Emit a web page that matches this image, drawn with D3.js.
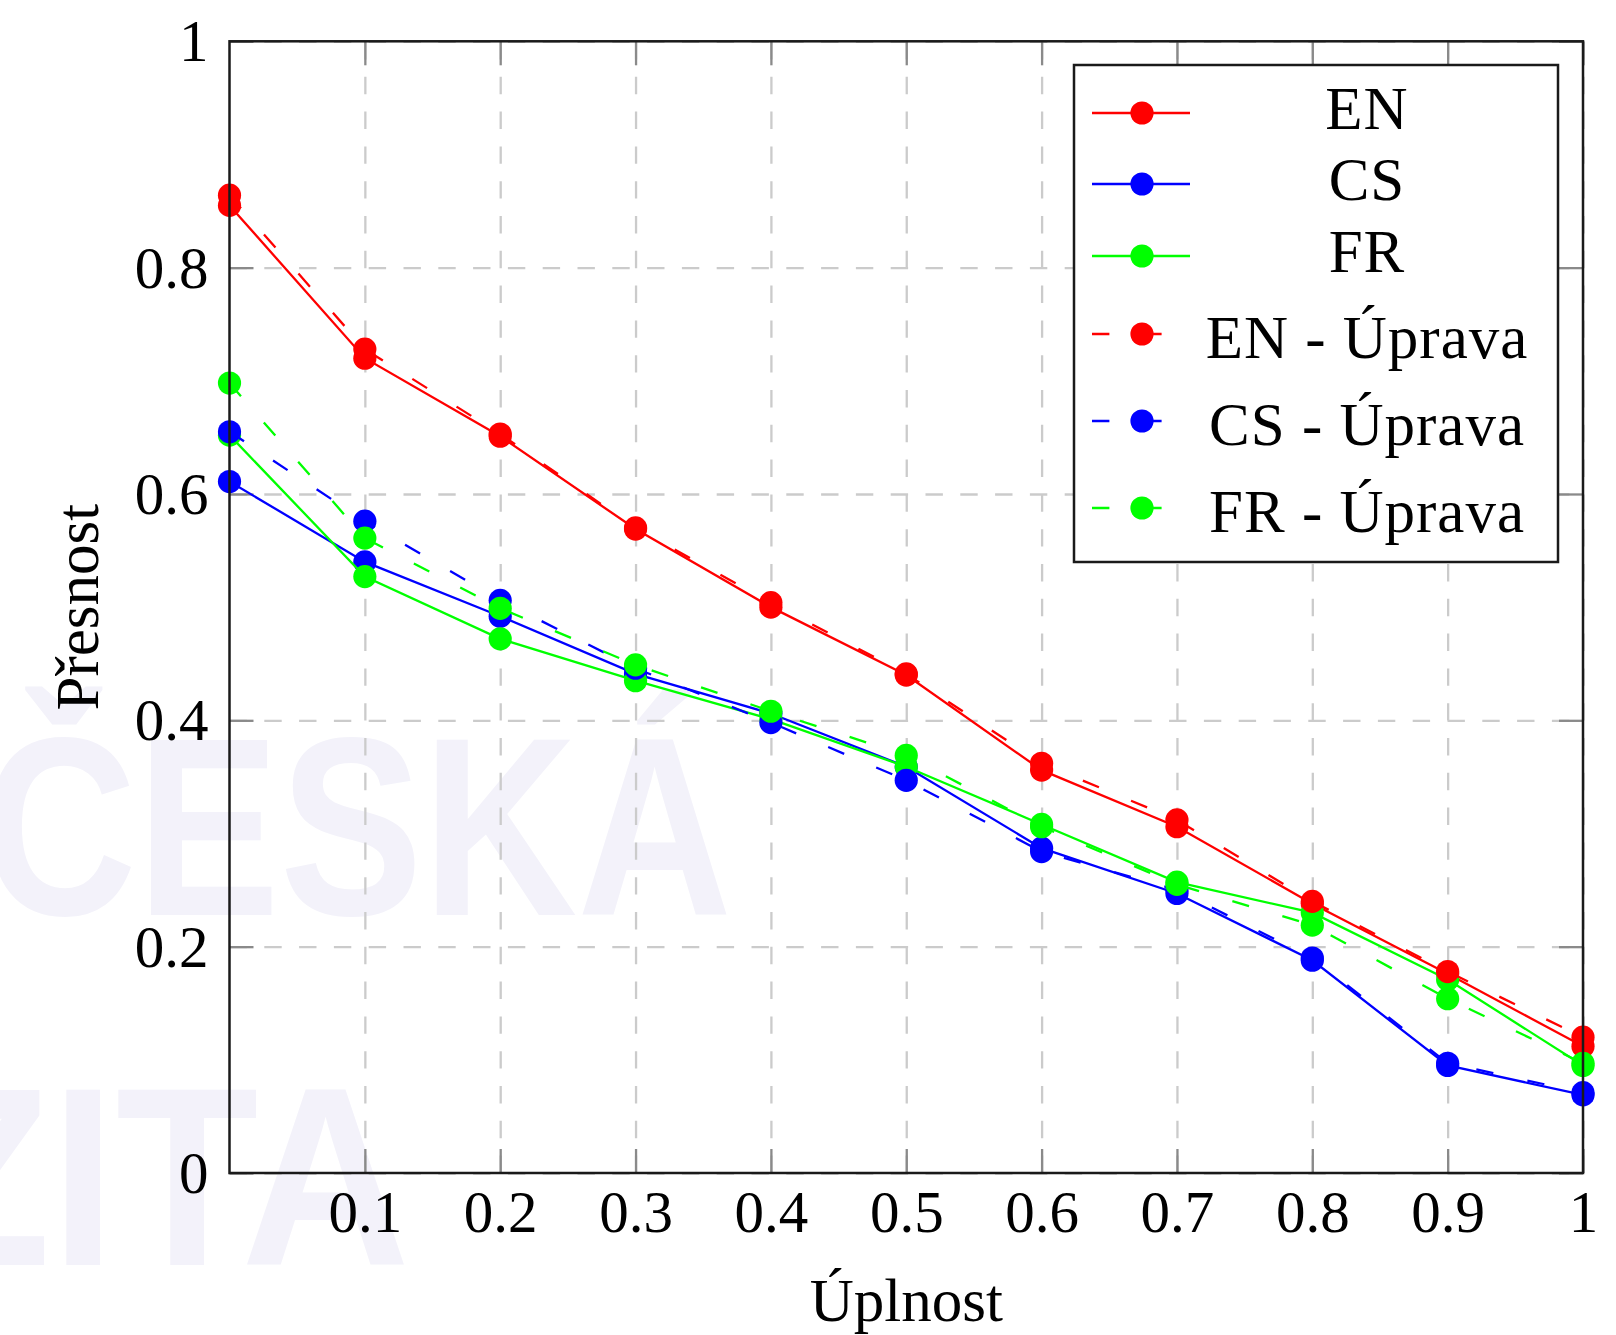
<!DOCTYPE html>
<html>
<head>
<meta charset="utf-8">
<script src="https://cdn.jsdelivr.net/npm/d3@7"></script>
<style>
  body { margin: 0; background: #fff; }
  svg { display: block; }
</style>
</head>
<body>
<div class="canvas"></div>
<script>
'use strict';

// precision / recall values
const recall = [0, 0.1, 0.2, 0.3, 0.4, 0.5, 0.6, 0.7, 0.8, 0.9, 1];
const en = [0.855, 0.72, 0.651, 0.569, 0.5, 0.44, 0.356, 0.306, 0.238, 0.176, 0.112];
const cs = [0.611, 0.54, 0.492, 0.441, 0.406, 0.359, 0.287, 0.247, 0.188, 0.095, 0.069];
const fr = [0.652, 0.527, 0.472, 0.435, 0.401, 0.359, 0.308, 0.257, 0.23, 0.171, 0.095];
const enUprava = [0.864, 0.728, 0.653, 0.57, 0.504, 0.441, 0.362, 0.312, 0.24, 0.178, 0.12];
const csUprava = [0.655, 0.576, 0.506, 0.446, 0.398, 0.347, 0.284, 0.25, 0.19, 0.097, 0.071];
const frUprava = [0.698, 0.561, 0.499, 0.449, 0.408, 0.369, 0.306, 0.255, 0.219, 0.154, 0.097];

const xTicks = [0.1, 0.2, 0.3, 0.4, 0.5, 0.6, 0.7, 0.8, 0.9, 1];
const yTicks = [0, 0.2, 0.4, 0.6, 0.8, 1];

const series = [
  { name: 'EN', values: en, color: '#ff0000', dashed: false },
  { name: 'CS', values: cs, color: '#0000ff', dashed: false },
  { name: 'FR', values: fr, color: '#00ff00', dashed: false },
  { name: 'EN - Úprava', values: enUprava, color: '#ff0000', dashed: true },
  { name: 'CS - Úprava', values: csUprava, color: '#0000ff', dashed: true },
  { name: 'FR - Úprava', values: frUprava, color: '#00ff00', dashed: true },
];

const W = 1616;
const H = 1335;
const margin = { top: 41.3, right: 33, bottom: 162, left: 229.5 };
const graphWidth = W - margin.left - margin.right;
const graphHeight = H - margin.top - margin.bottom;

const serif = "'Liberation Serif', 'Times New Roman', serif";
const lineW = 2.3;
const markR = 11.6;

const svg = d3
  .select('.canvas')
  .append('svg')
  .attr('width', W)
  .attr('height', H);

// faint university watermark behind the plot
const wm = svg
  .append('g')
  .attr('fill', '#f3f2fa')
  .style('font-family', "'Liberation Sans', Arial, sans-serif")
  .style('font-weight', 'bold')
  .style('font-size', '254px');

wm.append('text')
  .attr('x', -18)
  .attr('y', 915)
  .attr('textLength', 750)
  .attr('lengthAdjust', 'spacingAndGlyphs')
  .text('ČESKÁ');

wm.append('text')
  .attr('x', -92)
  .attr('y', 1265)
  .attr('textLength', 502)
  .attr('lengthAdjust', 'spacingAndGlyphs')
  .text('ZITA');

const graph = svg
  .append('g')
  .attr('transform', `translate(${margin.left},${margin.top})`);

const x = d3.scaleLinear().domain([0, 1]).range([0, graphWidth]);
const y = d3.scaleLinear().domain([0, 1]).range([graphHeight, 0]);

// dashed grid
const gridX = graph
  .append('g')
  .attr('transform', `translate(0,${graphHeight})`)
  .call(d3.axisBottom(x).tickValues(xTicks).tickSize(-graphHeight).tickFormat(''));
const gridY = graph
  .append('g')
  .call(d3.axisLeft(y).tickValues(yTicks).tickSize(-graphWidth).tickFormat(''));

[gridX, gridY].forEach(g => {
  g.select('.domain').remove();
  g.selectAll('line')
    .attr('stroke', '#cbcbcb')
    .attr('stroke-width', lineW)
    .attr('stroke-dasharray', '17.4 17.4');
});

// inward tick marks on all four sides
const tickLen = 24;
const tickGroups = [
  graph.append('g').attr('transform', `translate(0,${graphHeight})`)
    .call(d3.axisBottom(x).tickValues(xTicks).tickSize(-tickLen).tickFormat('')),
  graph.append('g')
    .call(d3.axisTop(x).tickValues(xTicks).tickSize(-tickLen).tickFormat('')),
  graph.append('g')
    .call(d3.axisLeft(y).tickValues(yTicks).tickSize(-tickLen).tickFormat('')),
  graph.append('g').attr('transform', `translate(${graphWidth},0)`)
    .call(d3.axisRight(y).tickValues(yTicks).tickSize(-tickLen).tickFormat('')),
];
tickGroups.forEach(g => {
  g.select('.domain').remove();
  g.selectAll('line').attr('stroke', '#8a8a8a').attr('stroke-width', lineW);
});

// tick labels
const xLabels = graph
  .append('g')
  .attr('transform', `translate(0,${graphHeight})`)
  .call(d3.axisBottom(x).tickValues(xTicks).tickSize(0).tickFormat(d => String(d)));
xLabels.select('.domain').remove();
xLabels
  .selectAll('text')
  .attr('y', 59)
  .attr('dy', null)
  .attr('fill', '#000')
  .style('font-family', serif)
  .style('font-size', '59px');

const yLabels = graph
  .append('g')
  .call(d3.axisLeft(y).tickValues(yTicks).tickSize(0).tickFormat(d => String(d)));
yLabels.select('.domain').remove();
yLabels
  .selectAll('text')
  .attr('x', -21)
  .attr('dy', '0.33em')
  .attr('fill', '#000')
  .style('font-family', serif)
  .style('font-size', '59px');

// series: line first, then its marks
const line = d3
  .line()
  .x((d, i) => x(recall[i]))
  .y(d => y(d));

series.forEach(s => {
  graph
    .append('path')
    .datum(s.values)
    .attr('d', line)
    .attr('fill', 'none')
    .attr('stroke', s.color)
    .attr('stroke-width', lineW)
    .attr('stroke-dasharray', s.dashed ? '17.4 34.8' : null);

  graph
    .append('g')
    .selectAll('circle')
    .data(s.values)
    .enter()
    .append('circle')
    .attr('cx', (d, i) => x(recall[i]))
    .attr('cy', d => y(d))
    .attr('r', markR)
    .attr('fill', s.color);
});

// axis frame
graph
  .append('rect')
  .attr('width', graphWidth)
  .attr('height', graphHeight)
  .attr('fill', 'none')
  .attr('stroke', '#1a1a1a')
  .attr('stroke-width', 2.5);

// axis titles
svg
  .append('text')
  .attr('x', margin.left + graphWidth / 2)
  .attr('y', 1321)
  .attr('text-anchor', 'middle')
  .style('font-family', serif)
  .style('font-size', '61px')
  .text('Úplnost');

svg
  .append('text')
  .attr('transform', `translate(98,${margin.top + graphHeight / 2}) rotate(-90)`)
  .attr('text-anchor', 'middle')
  .style('font-family', serif)
  .style('font-size', '61px')
  .text('Přesnost');

// legend
const legendRowY = [113, 184, 256, 334, 421, 508];
const legendTextY = [129, 200, 272, 358, 445, 532];

const legend = svg.append('g');

legend
  .append('rect')
  .attr('x', 1074)
  .attr('y', 65)
  .attr('width', 484)
  .attr('height', 497)
  .attr('fill', '#fff')
  .attr('stroke', '#1a1a1a')
  .attr('stroke-width', 2.5);

series.forEach((s, i) => {
  const row = legend.append('g');
  row
    .append('line')
    .attr('x1', 1092)
    .attr('x2', 1190)
    .attr('y1', legendRowY[i])
    .attr('y2', legendRowY[i])
    .attr('stroke', s.color)
    .attr('stroke-width', lineW)
    .attr('stroke-dasharray', s.dashed ? '17.4 34.8' : null);
  row
    .append('circle')
    .attr('cx', 1142)
    .attr('cy', legendRowY[i])
    .attr('r', markR)
    .attr('fill', s.color);
  row
    .append('text')
    .attr('x', 1367)
    .attr('y', legendTextY[i])
    .attr('text-anchor', 'middle')
    .style('font-family', serif)
    .style('font-size', '61px')
    .style('letter-spacing', '1px')
    .text(s.name);
});
</script>
</body>
</html>
